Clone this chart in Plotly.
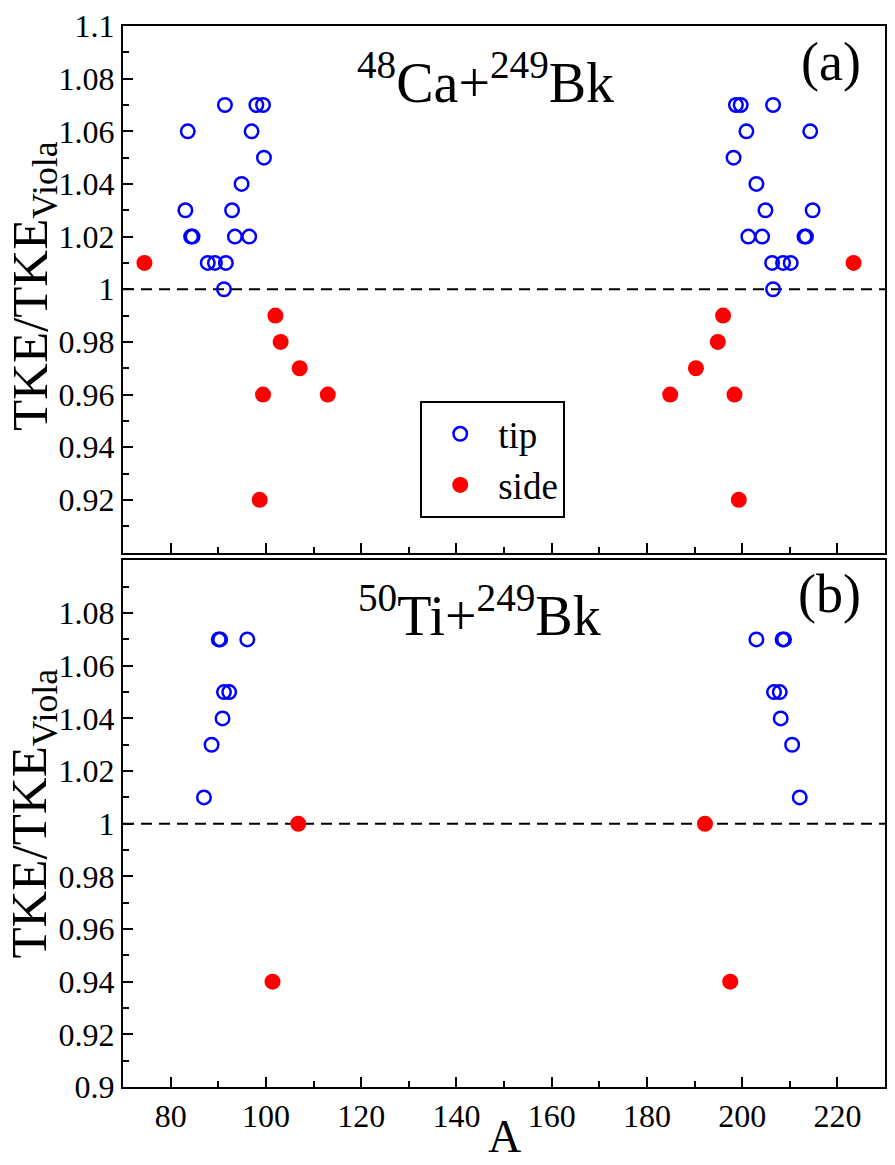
import plotly.graph_objects as go

# ---------------- data ----------------
# panel (a): 48Ca + 249Bk
a_tip_A = [91.4, 98.0, 99.4, 83.6, 97.0, 99.6, 94.9, 83.1, 92.9, 84.3, 84.6, 93.5, 96.5,
           87.8, 89.3, 91.6, 91.2,
           206.5, 199.7, 198.7, 214.3, 200.9, 198.2, 203.0, 214.8, 204.9, 213.1, 213.4, 204.2, 201.3,
           210.2, 208.6, 206.3, 206.5]
a_tip_R = [1.07, 1.07, 1.07, 1.06, 1.06, 1.05, 1.04, 1.03, 1.03, 1.02, 1.02, 1.02, 1.02,
           1.01, 1.01, 1.01, 1.00,
           1.07, 1.07, 1.07, 1.06, 1.06, 1.05, 1.04, 1.03, 1.03, 1.02, 1.02, 1.02, 1.02,
           1.01, 1.01, 1.01, 1.00]
a_side_A = [74.5, 102.0, 103.1, 107.1, 99.4, 113.0, 98.7,
            223.4, 196.0, 194.9, 190.3, 198.4, 184.9, 199.3]
a_side_R = [1.01, 0.99, 0.98, 0.97, 0.96, 0.96, 0.92,
            1.01, 0.99, 0.98, 0.97, 0.96, 0.96, 0.92]

# panel (b): 50Ti + 249Bk
b_tip_A = [90.1, 90.4, 96.1, 91.2, 92.3, 90.9, 88.6, 87.0,
           203.0, 208.5, 208.8, 206.7, 207.9, 208.1, 210.5, 212.1]
b_tip_R = [1.07, 1.07, 1.07, 1.05, 1.05, 1.04, 1.03, 1.01,
           1.07, 1.07, 1.07, 1.05, 1.05, 1.04, 1.03, 1.01]
b_side_A = [106.8, 101.4, 192.2, 197.5]
b_side_R = [1.00, 0.94, 1.00, 0.94]

x_ticks = [80, 100, 120, 140, 160, 180, 200, 220]
ya_ticks = [0.92, 0.94, 0.96, 0.98, 1.0, 1.02, 1.04, 1.06, 1.08, 1.1]
ya_text = ["0.92", "0.94", "0.96", "0.98", "1", "1.02", "1.04", "1.06", "1.08", "1.1"]
yb_ticks = [0.9, 0.92, 0.94, 0.96, 0.98, 1.0, 1.02, 1.04, 1.06, 1.08]
yb_text = ["0.9", "0.92", "0.94", "0.96", "0.98", "1", "1.02", "1.04", "1.06", "1.08"]

FONT = "Liberation Serif, Times New Roman, Times, serif"
BLUE = "#0000ff"
RED = "#ff0000"

fig = go.Figure()

tip_marker = dict(symbol="circle-open", size=13.5, color=BLUE, line=dict(color=BLUE, width=2.5))
side_marker = dict(symbol="circle", size=16, color=RED)

fig.add_trace(go.Scatter(x=a_tip_A, y=a_tip_R, mode="markers", marker=tip_marker,
                         name="tip", xaxis="x", yaxis="y"))
fig.add_trace(go.Scatter(x=a_side_A, y=a_side_R, mode="markers", marker=side_marker,
                         name="side", xaxis="x", yaxis="y"))
fig.add_trace(go.Scatter(x=b_tip_A, y=b_tip_R, mode="markers", marker=tip_marker,
                         name="tip", showlegend=False, xaxis="x2", yaxis="y2"))
fig.add_trace(go.Scatter(x=b_side_A, y=b_side_R, mode="markers", marker=side_marker,
                         name="side", showlegend=False, xaxis="x2", yaxis="y2"))

W, H = 895, 1165
ML, MR, MT, MB = 123, 8, 21, 78
ph = H - MT - MB
pw = W - ML - MR

def py(pix):
    return (H - MB - pix) / ph

def px(pix):
    return (pix - ML) / pw

minor_style = dict(ticks="inside", ticklen=6, tickwidth=2, tickcolor="black")
axis_common = dict(showline=True, linecolor="black", linewidth=2, mirror=True,
                   ticks="inside", ticklen=10, tickwidth=2, tickcolor="black",
                   showgrid=False, zeroline=False,
                   tickfont=dict(family=FONT, size=32, color="black"))

fig.update_layout(
    width=W, height=H,
    margin=dict(l=ML, r=MR, t=MT, b=MB),
    paper_bgcolor="white", plot_bgcolor="white",
    font=dict(family=FONT, color="black", size=32),
    xaxis=dict(axis_common, domain=[0, 1], anchor="y", range=[70, 230],
               tickvals=x_ticks, showticklabels=False,
               minor=dict(minor_style, dtick=10, tick0=0)),
    yaxis=dict(axis_common, domain=[py(550), 1], anchor="x", range=[0.9, 1.1],
               tickvals=ya_ticks, ticktext=ya_text,
               minor=dict(minor_style, dtick=0.01, tick0=0.9)),
    xaxis2=dict(axis_common, domain=[0, 1], anchor="y2", range=[70, 230],
                tickvals=x_ticks, ticktext=[str(v) for v in x_ticks], matches="x",
                minor=dict(minor_style, dtick=10, tick0=0)),
    yaxis2=dict(axis_common, domain=[0, py(558)], anchor="x2", range=[0.9, 1.1],
                tickvals=yb_ticks, ticktext=yb_text,
                minor=dict(minor_style, dtick=0.01, tick0=0.9)),
    legend=dict(x=px(421), y=py(398), xanchor="left", yanchor="top",
                bordercolor="black", borderwidth=2, bgcolor="white",
                itemwidth=66, tracegroupgap=0,
                font=dict(family=FONT, size=37, color="black")),
    showlegend=True,
)

for yr in ["y", "y2"]:
    fig.add_shape(type="line", xref="paper", x0=0, x1=1, yref=yr, y0=1.0, y1=1.0,
                  line=dict(color="black", width=2, dash="11px,7px"), layer="below")

ann = []
ann.append(dict(text="<sup>48</sup>Ca+<sup>249</sup>Bk", x=px(486), y=py(74)))
ann.append(dict(text="<sup>50</sup>Ti+<sup>249</sup>Bk", x=px(480), y=py(609)))
for a in ann:
    a.update(xref="paper", yref="paper", xanchor="center", yanchor="middle",
             showarrow=False, font=dict(family=FONT, size=56, color="black"))
    fig.add_annotation(**a)

for lab, yy in [("(a)", py(57)), ("(b)", py(592))]:
    fig.add_annotation(text=lab, x=px(865), y=yy, xref="paper", yref="paper",
                       xanchor="right", yanchor="middle", showarrow=False,
                       font=dict(family=FONT, size=54, color="black"))

for yy in [py(282), py(812)]:
    fig.add_annotation(text="TKE/TKE<sub>Viola</sub>", x=px(-1), y=yy, xref="paper", yref="paper",
                       xanchor="left", yanchor="middle", textangle=-90, showarrow=False,
                       font=dict(family=FONT, size=51, color="black"))

fig.add_annotation(text="A", x=px(505), y=py(1137), xref="paper", yref="paper",
                   xanchor="center", yanchor="middle", showarrow=False,
                   font=dict(family=FONT, size=46, color="black"))

fig.write_html("out.html")
